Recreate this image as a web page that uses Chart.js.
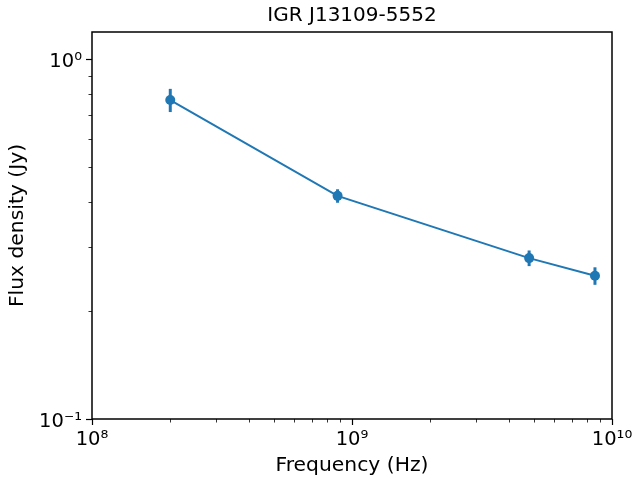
<!DOCTYPE html>
<html lang="en">
<head>
    <meta charset="UTF-8">
    <title>IGR J13109-5552</title>
    <script src="https://cdn.jsdelivr.net/npm/chart.js"></script>
    <style>
        body {
            margin: 0;
            background: #fff;
        }

        .chart-container {
            width: 635px;
            height: 479px;
        }
    </style>
</head>
<body>
    <div class="chart-container">
        <canvas id="fluxChart"></canvas>
    </div>

    <script>
        // Measurements (Hz, Jy)
        const frequencies = [2.0e8, 8.8e8, 4.8e9, 8.6e9];
        const fluxDensity = [0.770, 0.417, 0.280, 0.250];
        const fluxError = [0.057, 0.018, 0.014, 0.014];

        // Axis ticks
        const xMajorTicks = [1e8, 1e9, 1e10];
        const xTickLabels = ['10⁸', '10⁹', '10¹⁰'];
        const yMajorTicks = [0.1, 1];
        const yTickLabels = ['10⁻¹', '10⁰'];
        const minorSteps = [2, 3, 4, 5, 6, 7, 8, 9];

        const blue = '#1f77b4';
        const font = 'DejaVu Sans';

        // Error bars drawn under the markers
        const errorBars = {
            id: 'errorBars',
            beforeDatasetsDraw(chart) {
                const ctx = chart.ctx;
                const xs = chart.scales.x, ys = chart.scales.y;
                ctx.save();
                ctx.strokeStyle = blue;
                ctx.lineWidth = 3;
                frequencies.forEach((f, i) => {
                    const px = xs.getPixelForValue(f);
                    ctx.beginPath();
                    ctx.moveTo(px, ys.getPixelForValue(fluxDensity[i] + fluxError[i]));
                    ctx.lineTo(px, ys.getPixelForValue(fluxDensity[i] - fluxError[i]));
                    ctx.stroke();
                });
                ctx.restore();
            }
        };

        // Box around the plot and minor log ticks
        const frame = {
            id: 'frame',
            afterDraw(chart) {
                const ctx = chart.ctx;
                const a = chart.chartArea;
                const xs = chart.scales.x, ys = chart.scales.y;
                ctx.save();
                ctx.strokeStyle = '#000';
                ctx.lineWidth = 0.8;
                ctx.beginPath();
                [1e8, 1e9].forEach(d => minorSteps.forEach(m => {
                    const px = Math.round(xs.getPixelForValue(d * m)) + 0.5;
                    ctx.moveTo(px, a.bottom);
                    ctx.lineTo(px, a.bottom + 3.5);
                }));
                [0.1, 1].forEach(d => minorSteps.forEach(m => {
                    const v = d * m;
                    if (v > ys.max) return;
                    const py = Math.round(ys.getPixelForValue(v)) + 0.5;
                    ctx.moveTo(a.left, py);
                    ctx.lineTo(a.left - 3.5, py);
                }));
                ctx.stroke();
                ctx.lineWidth = 1.5;
                ctx.strokeRect(a.left, a.top, a.right - a.left, a.bottom - a.top);
                ctx.restore();
            }
        };

        const ctx = document.getElementById('fluxChart').getContext('2d');
        new Chart(ctx, {
            type: 'scatter',
            data: {
                datasets: [{
                    data: frequencies.map((f, i) => ({ x: f, y: fluxDensity[i] })),
                    showLine: true,
                    borderColor: blue,
                    backgroundColor: blue,
                    borderWidth: 2,
                    pointRadius: 5,
                    pointBorderWidth: 0
                }]
            },
            options: {
                responsive: true,
                maintainAspectRatio: false,
                animation: false,
                events: [],
                layout: { padding: { left: 0, right: 23, top: 0, bottom: 0 } },
                plugins: {
                    legend: { display: false },
                    tooltip: { enabled: false },
                    title: {
                        display: true,
                        text: 'IGR J13109-5552',
                        fullSize: false,
                        color: '#000',
                        font: { family: font, size: 20, weight: 'normal' },
                        padding: { top: 4, bottom: 4 }
                    }
                },
                scales: {
                    x: {
                        type: 'logarithmic',
                        min: 1e8,
                        max: 1e10,
                        afterBuildTicks: s => { s.ticks = xMajorTicks.map(v => ({ value: v, major: true })); },
                        afterFit: s => { s.height = 60; s.paddingLeft = 0; s.paddingRight = 0; },
                        grid: { drawOnChartArea: false, tickLength: 6, tickColor: '#000', tickWidth: 1.2 },
                        border: { display: false },
                        ticks: {
                            autoSkip: false,
                            maxRotation: 0,
                            padding: 3,
                            color: '#000',
                            font: { family: font, size: 19.5 },
                            callback: (v, i) => xTickLabels[i]
                        },
                        title: {
                            display: true,
                            text: 'Frequency (Hz)',
                            color: '#000',
                            font: { family: font, size: 20.3 },
                            padding: { top: 0, bottom: 1 }
                        }
                    },
                    y: {
                        type: 'logarithmic',
                        min: 0.1,
                        max: 1.19,
                        afterBuildTicks: s => { s.ticks = yMajorTicks.map(v => ({ value: v, major: true })); },
                        afterFit: s => { s.width = 92; s.paddingTop = 0; s.paddingBottom = 0; },
                        grid: { drawOnChartArea: false, tickLength: 6, tickColor: '#000', tickWidth: 1.2 },
                        border: { display: false },
                        ticks: {
                            autoSkip: false,
                            padding: 4,
                            labelOffset: 3,
                            color: '#000',
                            font: { family: font, size: 19.5 },
                            callback: (v, i) => yTickLabels[i]
                        },
                        title: {
                            display: true,
                            text: 'Flux density (Jy)',
                            color: '#000',
                            font: { family: font, size: 20.3 },
                            padding: { top: 6, bottom: 0 }
                        }
                    }
                }
            },
            plugins: [errorBars, frame]
        });
    </script>
</body>
</html>
